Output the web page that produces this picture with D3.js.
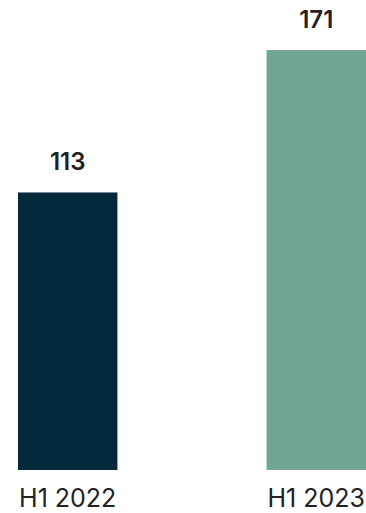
<!DOCTYPE html>
<html>
<head>
<meta charset="utf-8">
<script src="https://cdn.jsdelivr.net/npm/d3@7"></script>
<style>
  body { margin: 0; background: #fff; }
  svg text { font-family: Inter, "Open Sans", sans-serif; fill: #222; }
</style>
</head>
<body>
<svg id="chart"></svg>
<script>
var categories = ['H1 2022', 'H1 2023'];
var values = [113, 171];
var colors = ['#03293b', '#70a692'];

var width = 366, height = 513;
var margin = { top: 50, right: 0, bottom: 43, left: 18 };

var svg = d3.select('#chart')
	.attr('width', width)
	.attr('height', height);

var x = d3.scaleBand()
	.domain(categories)
	.range([margin.left, width - margin.right])
	.paddingInner(0.6)
	.paddingOuter(0);

var y = d3.scaleLinear()
	.domain([0, d3.max(values)])
	.range([height - margin.bottom, margin.top]);

var data = categories.map(function(c, i) { return { cat: c, val: values[i], color: colors[i] }; });

// bars
svg.selectAll('.bar').data(data).enter().append('rect')
	.classed('bar', true)
	.attr('x', function(d) { return x(d.cat); })
	.attr('y', function(d) { return y(d.val); })
	.attr('width', x.bandwidth())
	.attr('height', function(d) { return y(0) - y(d.val); })
	.attr('fill', function(d) { return d.color; });

// value labels
svg.selectAll('.value').data(data).enter().append('text')
	.classed('value', true)
	.attr('x', function(d) { return x(d.cat) + x.bandwidth() / 2; })
	.attr('y', function(d) { return y(d.val) - 22; })
	.attr('text-anchor', 'middle')
	.style('font-size', '24px')
	.style('font-weight', 600)
	.text(function(d) { return d.val; });

// category labels
svg.selectAll('.cat').data(data).enter().append('text')
	.classed('cat', true)
	.attr('x', function(d) { return x(d.cat) + x.bandwidth() / 2; })
	.attr('y', height - 6)
	.attr('text-anchor', 'middle')
	.style('font-size', '25px')
	.text(function(d) { return d.cat; });
</script>
</body>
</html>
